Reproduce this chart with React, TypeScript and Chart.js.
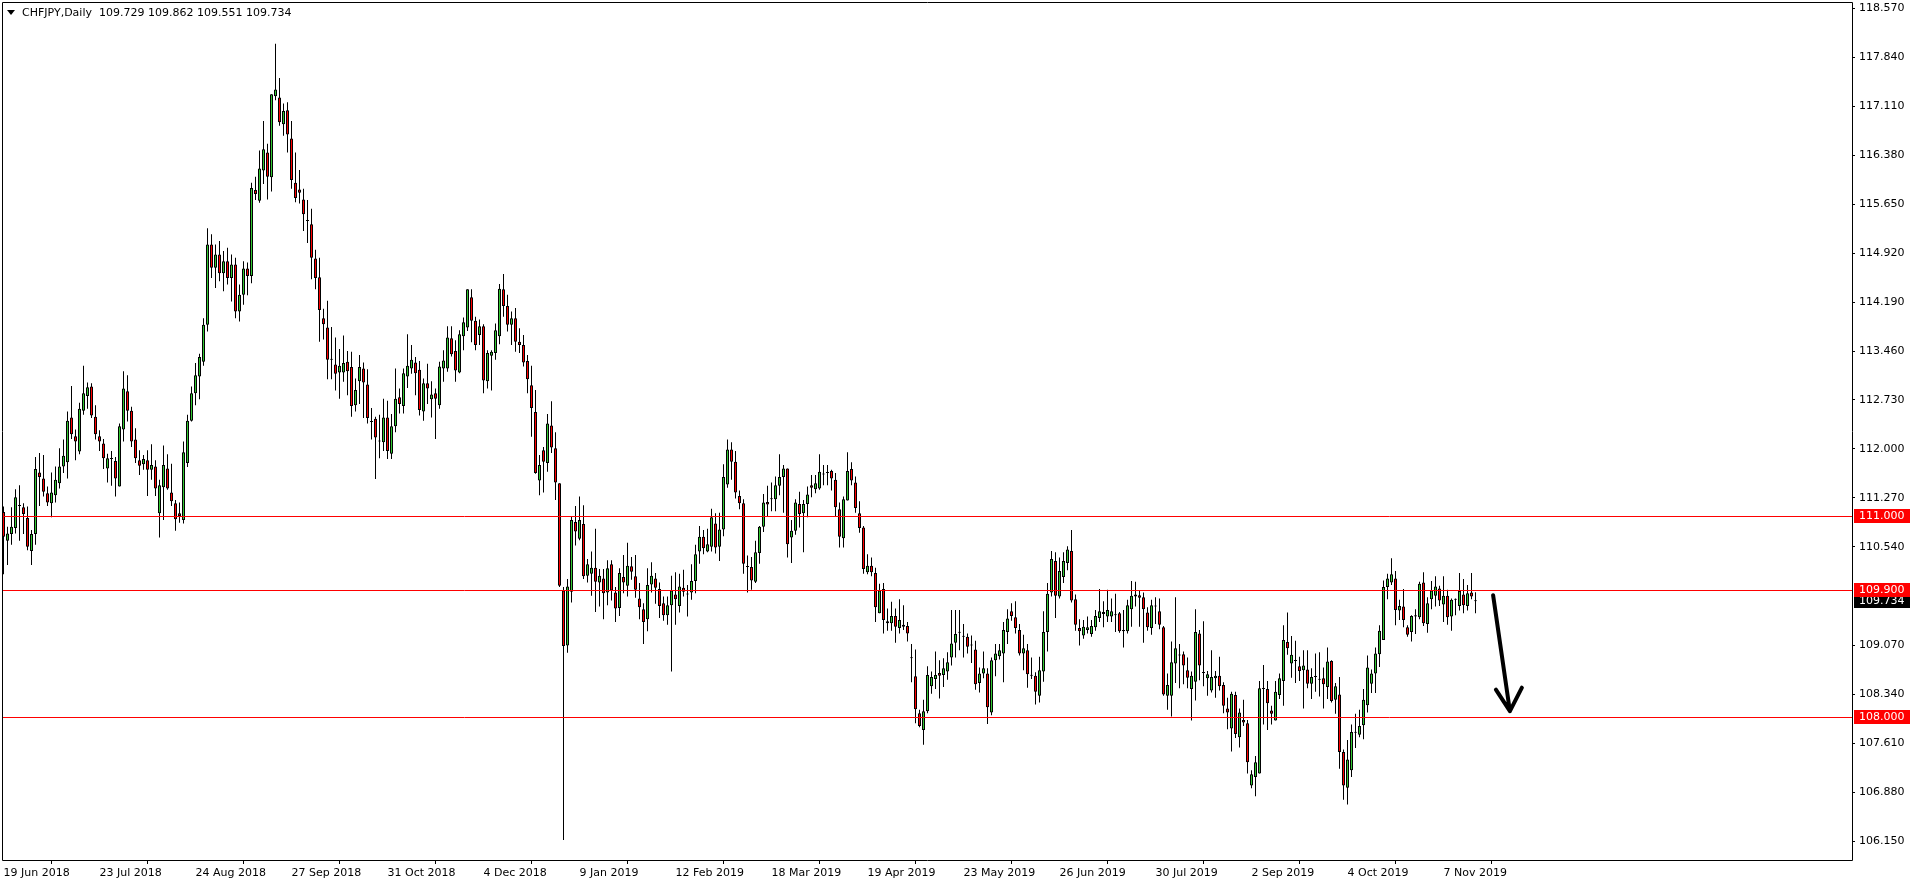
import React, { useEffect, useRef } from 'react';
import { Chart, registerables } from 'chart.js';

Chart.register(...registerables);

// ---------------- data ----------------
const symbolTitle = 'CHFJPY,Daily';

// Daily candles [open, high, low, close], one row per trading day starting 19 Jun 2018
const candlesPart1: number[][] = [
  [111.06, 111.14, 110.13, 110.69], [110.63, 110.84, 110.27, 110.74], [110.73, 111.13, 110.57, 110.84],
  [110.82, 111.40, 110.74, 111.28], [111.15, 111.46, 110.63, 111.15], [111.13, 111.19, 110.73, 111.03],
  [110.97, 111.14, 110.49, 110.54], [110.48, 110.79, 110.27, 110.73], [110.73, 111.88, 110.57, 111.70],
  [111.65, 111.94, 111.15, 111.58], [111.56, 111.91, 111.29, 111.36], [111.34, 111.44, 111.15, 111.20],
  [111.19, 111.65, 110.98, 111.35], [111.31, 111.74, 111.20, 111.54], [111.49, 112.01, 111.41, 111.74],
  [111.74, 112.14, 111.64, 111.90], [111.80, 112.56, 111.56, 112.42], [112.47, 112.94, 112.15, 112.22],
  [112.19, 112.29, 111.83, 112.11], [111.96, 112.69, 111.92, 112.60], [112.57, 113.24, 112.51, 112.83],
  [112.79, 112.99, 112.60, 112.92], [112.93, 112.98, 112.46, 112.50], [112.48, 112.65, 112.14, 112.22],
  [112.19, 112.28, 111.97, 112.11], [112.08, 112.15, 111.70, 111.86], [111.71, 111.93, 111.50, 111.86],
  [111.85, 111.97, 111.45, 111.85], [111.82, 111.88, 111.29, 111.56], [111.44, 112.38, 111.44, 112.34],
  [112.29, 113.16, 112.11, 112.90], [112.86, 113.10, 112.41, 112.57], [112.57, 112.63, 112.03, 112.11],
  [112.14, 112.31, 111.79, 111.86], [111.83, 111.98, 111.61, 111.75], [111.77, 111.91, 111.69, 111.85],
  [111.83, 111.98, 111.30, 111.69], [111.69, 112.07, 111.54, 111.76], [111.74, 111.83, 111.30, 111.41],
  [111.04, 111.54, 110.68, 111.46], [111.43, 112.05, 110.94, 111.76], [111.71, 111.92, 111.39, 111.41],
  [111.35, 111.78, 111.15, 111.22], [111.19, 111.24, 110.78, 110.95], [111.04, 111.20, 110.90, 111.00],
  [110.94, 112.11, 110.89, 111.95], [111.79, 112.51, 111.73, 112.42], [112.42, 112.93, 112.41, 112.83],
  [112.83, 113.28, 112.65, 113.10], [113.08, 113.42, 112.74, 113.37],
];

const candlesPart2: number[][] = [
  [113.30, 113.95, 113.24, 113.85], [113.85, 115.29, 113.75, 115.05], [115.05, 115.20, 114.55, 114.70],
  [114.70, 115.05, 114.40, 114.90], [114.90, 115.10, 114.50, 114.62], [114.62, 114.95, 114.35, 114.80],
  [114.80, 115.00, 114.45, 114.55], [114.55, 114.90, 114.20, 114.75], [114.75, 114.85, 113.95, 114.05],
  [114.05, 114.45, 113.90, 114.30], [114.30, 114.80, 114.15, 114.69], [114.69, 114.78, 114.29, 114.58],
  [114.58, 115.97, 114.47, 115.89], [115.86, 116.06, 115.71, 115.80], [115.70, 116.45, 115.67, 116.18],
  [116.15, 116.89, 115.95, 116.47], [116.42, 116.55, 115.72, 116.06], [116.05, 117.29, 115.84, 117.29],
  [117.26, 118.04, 117.20, 117.36], [117.24, 117.53, 116.82, 116.87], [116.84, 117.15, 116.67, 117.04],
  [117.05, 117.17, 116.42, 116.69], [116.63, 116.89, 115.88, 116.01], [115.97, 116.42, 115.68, 115.74],
  [115.87, 116.16, 115.66, 115.82], [115.72, 115.88, 115.25, 115.50], [115.40, 115.71, 115.07, 115.40],
  [115.35, 115.58, 114.53, 114.85], [114.84, 114.97, 114.38, 114.55], [114.56, 114.85, 113.60, 114.07],
  [113.95, 114.09, 113.63, 113.86], [113.81, 114.21, 113.04, 113.33], [113.33, 113.82, 113.04, 113.33],
  [113.26, 113.66, 112.87, 113.12], [113.14, 113.49, 112.75, 113.24], [113.14, 113.69, 113.00, 113.28],
  [113.30, 113.46, 112.80, 113.16], [113.22, 113.45, 112.48, 112.64], [112.65, 113.05, 112.56, 112.88],
  [113.01, 113.40, 112.67, 113.22], [113.20, 113.29, 112.46, 112.99], [112.96, 113.19, 112.38, 112.46],
  [112.40, 112.61, 112.14, 112.40], [112.45, 112.48, 111.55, 112.17], [112.11, 112.51, 111.86, 112.11],
  [112.10, 112.75, 111.97, 112.47], [112.47, 112.72, 111.85, 111.97], [111.93, 112.52, 111.85, 112.34],
  [112.34, 113.20, 112.25, 112.75], [112.77, 112.90, 112.53, 112.67],
];

const candlesPart3: number[][] = [
  [112.64, 113.20, 112.53, 113.13], [113.08, 113.71, 112.91, 113.24], [113.20, 113.55, 113.12, 113.33],
  [113.29, 113.37, 112.80, 113.13], [113.18, 113.31, 112.50, 112.58], [112.56, 113.05, 112.42, 112.98],
  [112.98, 113.27, 112.67, 112.90], [112.74, 113.01, 112.47, 112.81], [112.83, 112.90, 112.15, 112.75],
  [112.65, 113.30, 112.60, 113.23], [113.20, 113.47, 113.00, 113.32], [113.20, 113.83, 113.15, 113.66],
  [113.65, 113.83, 113.38, 113.41], [113.46, 113.62, 113.00, 113.17], [113.14, 113.77, 113.13, 113.71],
  [113.68, 113.96, 113.47, 113.89], [113.81, 114.38, 113.76, 114.38], [114.26, 114.38, 113.59, 113.91],
  [113.91, 113.97, 113.47, 113.55], [113.70, 113.93, 113.55, 113.83], [113.83, 113.86, 112.83, 113.02],
  [113.01, 113.47, 112.90, 113.43], [113.39, 113.47, 112.87, 113.45], [113.43, 113.87, 113.33, 113.77],
  [113.68, 114.46, 113.56, 114.39], [114.38, 114.61, 113.97, 114.13], [114.13, 114.30, 113.75, 113.85],
  [113.85, 114.05, 113.55, 113.95], [113.95, 114.10, 113.45, 113.60], [113.60, 113.80, 113.43, 113.55],
  [113.55, 113.70, 113.23, 113.29], [113.31, 113.40, 112.83, 113.04], [112.95, 113.24, 112.18, 112.61],
  [112.55, 112.88, 111.63, 111.64], [111.53, 111.91, 111.31, 111.76], [111.98, 112.03, 111.35, 111.81],
  [111.79, 112.52, 111.66, 112.38], [112.35, 112.71, 111.94, 112.02], [112.01, 112.25, 111.24, 111.50],
  [111.49, 111.49, 109.94, 109.96],
];

const candlesPart4: number[][] = [
  [109.89, 109.94, 106.17, 109.06], [109.07, 110.06, 108.96, 109.95], [109.87, 110.99, 109.71, 110.94],
  [110.91, 111.15, 110.56, 110.77], [110.66, 111.29, 110.64, 110.94], [110.88, 111.16, 110.06, 110.10],
  [110.11, 110.36, 110.01, 110.28], [110.14, 110.47, 109.81, 110.23], [110.23, 110.81, 109.57, 110.02],
  [110.01, 110.21, 109.65, 110.11], [110.07, 110.21, 109.46, 109.85], [109.86, 110.34, 109.67, 110.22],
  [110.28, 110.34, 109.74, 109.89], [109.86, 109.94, 109.42, 109.62], [109.63, 110.22, 109.51, 110.15],
  [110.09, 110.42, 109.85, 110.01], [109.96, 110.60, 109.80, 110.26], [110.25, 110.39, 110.05, 110.17],
  [110.10, 110.42, 109.78, 109.90], [109.77, 110.00, 109.46, 109.64], [109.61, 109.70, 109.09, 109.42],
  [109.46, 110.22, 109.28, 109.97], [109.98, 110.31, 109.86, 110.11], [110.07, 110.15, 109.69, 109.93],
  [109.91, 110.01, 109.48, 109.66], [109.70, 109.80, 109.44, 109.52], [109.52, 109.80, 109.38, 109.67],
  [109.67, 110.11, 108.68, 109.89], [109.83, 110.16, 109.38, 109.76], [109.66, 110.14, 109.56, 109.95],
  [109.93, 110.20, 109.80, 109.87], [109.83, 109.97, 109.50, 109.83], [109.86, 110.28, 109.75, 110.03],
  [110.03, 110.57, 109.85, 110.43], [110.47, 110.85, 110.29, 110.69], [110.69, 110.79, 110.43, 110.52],
  [110.47, 110.81, 110.46, 110.58], [110.54, 111.11, 110.47, 110.98], [110.89, 111.04, 110.44, 110.53],
  [110.54, 111.05, 110.33, 110.80], [110.80, 111.77, 110.70, 111.58], [111.47, 112.14, 111.42, 111.99],
  [111.99, 112.10, 111.54, 111.81], [111.81, 111.97, 111.26, 111.35], [111.30, 111.38, 111.10, 111.19],
  [111.19, 111.25, 110.14, 110.29], [110.24, 110.41, 109.86, 110.24], [110.24, 110.39, 109.90, 110.04],
  [110.02, 110.63, 110.00, 110.46], [110.45, 110.85, 110.29, 110.84],
];

const candlesPart5: number[][] = [
  [110.84, 111.33, 110.76, 111.20], [111.21, 111.45, 110.99, 111.17], [111.25, 111.50, 111.07, 111.25],
  [111.25, 111.59, 111.07, 111.46], [111.45, 111.92, 111.31, 111.58], [111.58, 111.76, 111.05, 111.71],
  [111.71, 111.71, 110.38, 110.58], [110.68, 110.94, 110.30, 110.78], [110.78, 111.25, 110.72, 111.20],
  [111.18, 111.36, 110.83, 111.03], [111.04, 111.24, 110.46, 111.18], [111.18, 111.44, 110.98, 111.32],
  [111.46, 111.61, 111.28, 111.42], [111.40, 111.61, 111.34, 111.49], [111.41, 111.92, 111.39, 111.66],
  [111.62, 111.76, 111.46, 111.62], [111.64, 111.76, 111.46, 111.64], [111.67, 111.69, 111.38, 111.56],
  [111.54, 111.64, 110.99, 111.13], [111.10, 111.20, 110.53, 110.69], [110.67, 111.29, 110.53, 111.25],
  [111.23, 111.95, 111.23, 111.67], [111.70, 111.80, 111.46, 111.53], [111.50, 111.59, 111.05, 111.12],
  [111.04, 111.22, 110.75, 110.82], [110.83, 110.85, 110.14, 110.21], [110.16, 110.43, 110.13, 110.26],
  [110.26, 110.38, 110.10, 110.16], [110.15, 110.23, 109.42, 109.64], [109.55, 109.99, 109.55, 109.89],
  [109.91, 110.00, 109.25, 109.45], [109.40, 109.62, 109.29, 109.43], [109.40, 109.72, 109.29, 109.51],
  [109.51, 109.62, 109.11, 109.35], [109.33, 109.76, 109.25, 109.45], [109.35, 109.67, 109.30, 109.38],
  [109.36, 109.42, 109.13, 109.25], [108.88, 109.09, 108.52, 108.88], [108.61, 109.01, 107.91, 108.12],
  [108.06, 108.11, 107.85, 107.87], [107.81, 108.26, 107.59, 108.09], [108.09, 108.76, 108.06, 108.63],
  [108.46, 108.68, 108.35, 108.60], [108.57, 108.98, 108.42, 108.63], [108.66, 108.85, 108.28, 108.62],
  [108.63, 108.88, 108.45, 108.73], [108.68, 108.97, 108.56, 108.82], [108.89, 109.60, 108.77, 109.10],
  [109.11, 109.60, 108.89, 109.24], [109.26, 109.60, 109.00, 109.26],
];

const candlesPart6: number[][] = [
  [109.20, 109.39, 108.89, 109.20], [109.20, 109.25, 108.95, 109.05], [109.07, 109.22, 108.81, 109.07],
  [109.01, 109.14, 108.41, 108.49], [108.51, 108.74, 108.37, 108.65], [108.65, 108.98, 108.58, 108.73],
  [108.65, 108.73, 107.90, 108.15], [108.07, 108.89, 108.03, 108.85], [108.85, 109.09, 108.61, 108.95],
  [108.91, 109.09, 108.86, 109.00], [108.95, 109.42, 108.52, 109.30], [109.27, 109.61, 109.09, 109.47],
  [109.58, 109.70, 109.44, 109.51], [109.49, 109.73, 109.25, 109.33], [109.30, 109.39, 108.92, 108.95],
  [108.95, 109.23, 108.70, 109.03], [109.00, 109.09, 108.44, 108.64], [108.62, 108.89, 108.57, 108.62],
  [108.62, 108.67, 108.19, 108.38], [108.32, 108.90, 108.22, 108.70], [108.68, 109.58, 108.53, 109.27],
  [109.27, 110.00, 108.98, 109.84], [109.86, 110.48, 109.80, 110.36], [110.33, 110.46, 109.48, 109.81],
  [109.80, 110.38, 109.77, 110.18], [110.09, 110.46, 110.00, 110.33], [110.30, 110.55, 110.19, 110.50],
  [110.48, 110.79, 109.71, 109.74], [109.76, 109.83, 109.29, 109.38], [109.33, 109.46, 109.07, 109.28],
  [109.22, 109.45, 109.17, 109.35], [109.30, 109.50, 109.25, 109.34], [109.24, 109.45, 109.20, 109.36],
  [109.34, 109.60, 109.29, 109.51], [109.48, 109.91, 109.42, 109.58], [109.57, 109.73, 109.34, 109.54],
  [109.50, 109.90, 109.42, 109.60], [109.50, 109.77, 109.42, 109.58], [109.52, 109.84, 109.27, 109.52],
  [109.55, 109.57, 109.26, 109.28], [109.28, 109.60, 109.04, 109.30], [109.28, 109.75, 109.25, 109.67],
  [109.61, 110.03, 109.35, 109.81], [109.80, 110.02, 109.65, 109.83], [109.82, 109.89, 109.35, 109.78],
  [109.79, 109.86, 109.11, 109.61], [109.56, 109.64, 109.29, 109.34], [109.33, 109.75, 109.23, 109.67],
  [109.65, 109.79, 109.39, 109.65], [109.58, 109.77, 109.31, 109.38],
];

const candlesPart7: number[][] = [
  [109.34, 109.36, 108.32, 108.34], [108.32, 108.65, 108.11, 108.48], [108.32, 109.13, 108.01, 108.82],
  [108.80, 109.79, 108.51, 109.03], [108.92, 109.09, 108.43, 108.92], [108.94, 108.98, 108.49, 108.77],
  [108.70, 108.89, 108.43, 108.59], [108.42, 108.68, 107.95, 108.62], [108.53, 109.61, 108.25, 109.27],
  [109.25, 109.30, 108.55, 108.77], [108.66, 109.43, 108.46, 108.66], [108.58, 108.69, 108.32, 108.64],
  [108.40, 109.00, 108.37, 108.60], [108.58, 108.69, 108.29, 108.62], [108.62, 108.90, 108.40, 108.46],
  [108.48, 108.52, 108.06, 108.17], [108.13, 108.29, 107.82, 108.07], [107.83, 108.38, 107.49, 108.35],
  [108.33, 108.38, 107.69, 107.75], [107.70, 108.13, 107.55, 108.07], [107.96, 108.26, 107.87, 107.92],
  [107.91, 107.96, 107.16, 107.33], [106.98, 107.21, 106.94, 107.15], [107.11, 107.42, 106.82, 107.33],
  [107.16, 108.54, 107.16, 108.43], [108.42, 108.78, 107.89, 108.42], [108.42, 108.54, 107.81, 108.21],
  [108.10, 108.17, 107.89, 108.05], [107.95, 108.54, 107.95, 108.38], [108.33, 108.65, 108.27, 108.58],
  [108.54, 109.37, 108.17, 109.15], [109.12, 109.56, 108.93, 109.03], [108.80, 109.21, 108.59, 108.93],
  [108.84, 109.14, 108.51, 108.84], [108.76, 108.90, 108.54, 108.69], [108.70, 109.00, 108.13, 108.77],
  [108.71, 109.00, 108.43, 108.50], [108.50, 108.73, 108.27, 108.60], [108.60, 108.95, 108.38, 108.60],
  [108.56, 108.97, 108.31, 108.56], [108.58, 108.74, 108.13, 108.49], [108.45, 109.04, 108.27, 108.83],
  [108.84, 108.85, 108.22, 108.24], [108.26, 108.51, 108.05, 108.46], [108.34, 108.60, 107.23, 107.48],
  [107.48, 107.52, 106.77, 106.98], [106.95, 107.66, 106.70, 107.37], [107.21, 107.89, 107.11, 107.78],
  [107.77, 108.05, 107.54, 107.77], [107.74, 108.11, 107.70, 107.87],
];

const candlesPart8: number[][] = [
  [107.88, 108.42, 107.67, 108.26], [108.18, 108.92, 108.07, 108.74], [108.50, 108.71, 108.36, 108.65],
  [108.65, 109.04, 108.36, 108.95], [108.94, 109.37, 108.75, 109.29], [109.15, 110.04, 109.15, 109.94],
  [109.94, 110.14, 109.76, 110.07], [110.01, 110.37, 109.97, 110.13], [110.07, 110.18, 109.37, 109.60],
  [109.59, 109.75, 109.45, 109.66], [109.65, 109.91, 109.34, 109.45], [109.34, 109.37, 109.20, 109.23],
  [109.27, 109.52, 109.13, 109.51], [109.50, 109.61, 109.24, 109.52], [109.49, 110.02, 109.46, 109.99],
  [110.01, 110.16, 109.36, 109.40], [109.39, 109.79, 109.26, 109.70], [109.76, 110.03, 109.61, 109.89],
  [109.81, 110.10, 109.65, 109.95], [109.92, 109.96, 109.66, 109.74], [109.68, 110.10, 109.42, 109.81],
  [109.81, 109.90, 109.38, 109.49], [109.50, 109.77, 109.29, 109.75], [109.75, 109.77, 109.52, 109.75],
  [109.66, 110.15, 109.59, 109.88], [109.83, 110.06, 109.55, 109.67], [109.66, 109.97, 109.59, 109.85],
  [109.86, 110.15, 109.76, 109.80], [109.729, 109.862, 109.551, 109.734],
];

const xTickLabels = [
  '19 Jun 2018', '23 Jul 2018', '24 Aug 2018', '27 Sep 2018', '31 Oct 2018', '4 Dec 2018',
  '9 Jan 2019', '12 Feb 2019', '18 Mar 2019', '19 Apr 2019', '23 May 2019', '26 Jun 2019',
  '30 Jul 2019', '2 Sep 2019', '4 Oct 2019', '7 Nov 2019',
];
const barsPerXTick = 24;

const yTickValues = [
  118.57, 117.84, 117.11, 116.38, 115.65, 114.92, 114.19, 113.46, 112.73, 112.0,
  111.27, 110.54, 109.07, 108.34, 107.61, 106.88, 106.15,
];
const yMin = 105.871;
const yMax = 118.664;
const xMin = -0.375;
const xMax = 462.125;

const levelLines = [111.0, 109.9, 108.0];

// hand-drawn arrow (bar index, price)
const arrowShaft = [[372.4, 109.82], [376.6, 108.09]];
const arrowHeadLeft = [373.1, 108.41];
const arrowHeadRight = [379.6, 108.44];

// --------------- chart ----------------
const FONT = "'DejaVu Sans'";
const BULL = '#32C832';
const BEAR = '#FF0000';

function App() {
  const canvasRef = useRef<HTMLCanvasElement | null>(null);

  useEffect(() => {
    const candles = [
      ...candlesPart1, ...candlesPart2, ...candlesPart3, ...candlesPart4,
      ...candlesPart5, ...candlesPart6, ...candlesPart7, ...candlesPart8,
    ];
    const opens = candles.map((r) => r[0]);
    const highs = candles.map((r) => r[1]);
    const lows = candles.map((r) => r[2]);
    const closes = candles.map((r) => r[3]);

    const bodyData = candles.map((_, i) => ({
      x: i,
      y: [Math.min(opens[i], closes[i]), Math.max(opens[i], closes[i])],
    }));
    const wickData = candles.map((_, i) => ({
      x: i,
      y: [Math.min(lows[i], opens[i], closes[i]), Math.max(highs[i], opens[i], closes[i])],
    }));
    const bodyColors = candles.map((_, i) => (closes[i] >= opens[i] ? BULL : BEAR));

    const last = candles[candles.length - 1];

    const overlay = {
      id: 'mt4Overlay',
      afterDatasetsDraw(chart: any) {
        const { ctx, chartArea: a, scales } = chart;
        const x = scales.x;
        const y = scales.y;
        ctx.save();
        ctx.beginPath();
        ctx.rect(a.left, a.top, a.right - a.left, a.bottom - a.top);
        ctx.clip();
        ctx.strokeStyle = '#FF0000';
        ctx.lineWidth = 1;
        levelLines.forEach((v) => {
          const py = Math.round(y.getPixelForValue(v)) + 0.5;
          ctx.beginPath();
          ctx.moveTo(a.left, py);
          ctx.lineTo(a.right, py);
          ctx.stroke();
        });
        ctx.strokeStyle = '#000';
        ctx.lineWidth = 4;
        ctx.lineCap = 'round';
        ctx.lineJoin = 'round';
        const px = (p: number[]) => [x.getPixelForValue(p[0]), y.getPixelForValue(p[1])];
        const s0 = px(arrowShaft[0]);
        const s1 = px(arrowShaft[1]);
        const hl = px(arrowHeadLeft);
        const hr = px(arrowHeadRight);
        ctx.beginPath();
        ctx.moveTo(s0[0], s0[1]);
        ctx.lineTo(s1[0], s1[1]);
        ctx.moveTo(hl[0], hl[1]);
        ctx.lineTo(s1[0], s1[1]);
        ctx.lineTo(hr[0], hr[1]);
        ctx.stroke();
        ctx.restore();
      },
      afterDraw(chart: any) {
        const { ctx, chartArea: a, scales } = chart;
        const y = scales.y;
        ctx.save();
        ctx.strokeStyle = '#000';
        ctx.lineWidth = 1;
        ctx.beginPath();
        ctx.moveTo(a.left + 0.5, a.top + 0.5);
        ctx.lineTo(a.right + 0.5, a.top + 0.5);
        ctx.lineTo(a.right + 0.5, a.bottom + 0.5);
        ctx.lineTo(a.left + 0.5, a.bottom + 0.5);
        ctx.closePath();
        ctx.stroke();

        ctx.fillStyle = '#000';
        ctx.beginPath();
        ctx.moveTo(a.left + 5, a.top + 8);
        ctx.lineTo(a.left + 13, a.top + 8);
        ctx.lineTo(a.left + 9, a.top + 13);
        ctx.closePath();
        ctx.fill();
        ctx.font = `11px ${FONT}`;
        ctx.textBaseline = 'middle';
        ctx.textAlign = 'left';
        const fmt = (v: number) => v.toFixed(3);
        ctx.fillText(
          `${symbolTitle}  ${fmt(last[0])} ${fmt(last[1])} ${fmt(last[2])} ${fmt(last[3])}`,
          a.left + 20,
          a.top + 11,
        );

        const box = (v: number, bg: string) => {
          const py = Math.round(y.getPixelForValue(v));
          ctx.fillStyle = bg;
          ctx.fillRect(a.right + 2, py - 7, 56, 14);
          ctx.fillStyle = '#FFF';
          ctx.fillText(v.toFixed(3), a.right + 7, py + 0.5);
        };
        box(last[3], '#000');
        levelLines.forEach((v) => box(v, '#FF0000'));
        ctx.restore();
      },
    };

    const chart = new Chart(canvasRef.current as HTMLCanvasElement, {
      type: 'bar',
      data: {
        datasets: [
          {
            label: 'body',
            data: bodyData as any,
            backgroundColor: bodyColors,
            borderColor: '#000',
            borderWidth: 1,
            borderSkipped: false,
            barThickness: 3,
            minBarLength: 1,
            grouped: false,
            inflateAmount: 0,
            order: 0,
          } as any,
          {
            label: 'wick',
            data: wickData as any,
            backgroundColor: '#000',
            borderWidth: 0,
            barThickness: 1,
            minBarLength: 1,
            grouped: false,
            inflateAmount: 0,
            order: 1,
          } as any,
        ],
      },
      options: {
        responsive: false,
        devicePixelRatio: 1,
        animation: false,
        layout: { padding: { left: 2, top: 2, right: 0, bottom: 0 } },
        plugins: { legend: { display: false }, tooltip: { enabled: false } },
        scales: {
          x: {
            type: 'linear',
            min: xMin,
            max: xMax,
            offset: false,
            grid: { drawOnChartArea: false, drawTicks: true, tickLength: 4, color: '#000' },
            border: { display: false },
            ticks: {
              autoSkip: false,
              maxRotation: 0,
              minRotation: 0,
              align: 'start',
              padding: 3,
              color: '#000',
              font: { family: FONT, size: 11 },
              callback: (v: any) => xTickLabels[Math.round(Number(v) / barsPerXTick)] ?? '',
            },
            afterBuildTicks: (scale: any) => {
              scale.ticks = xTickLabels.map((_, k) => ({ value: k * barsPerXTick }));
            },
            afterFit: (scale: any) => {
              scale.height = 24;
              scale.paddingLeft = 0;
              scale.paddingRight = 0;
            },
          } as any,
          y: {
            type: 'linear',
            position: 'right',
            min: yMin,
            max: yMax,
            grid: { drawOnChartArea: false, drawTicks: true, tickLength: 3, color: '#000' },
            border: { display: false },
            ticks: {
              padding: 4,
              color: '#000',
              font: { family: FONT, size: 11 },
              callback: (v: any) => Number(v).toFixed(3),
            },
            afterBuildTicks: (scale: any) => {
              scale.ticks = yTickValues.map((v) => ({ value: v }));
            },
            afterFit: (scale: any) => {
              scale.width = 64;
              scale.paddingTop = 0;
              scale.paddingBottom = 0;
            },
          } as any,
        },
      },
      plugins: [overlay],
    });

    return () => chart.destroy();
  }, []);

  return (
    <div style={{ position: 'fixed', left: 0, top: 0, width: 1916, height: 884, background: '#fff' }}>
      <canvas ref={canvasRef} width={1916} height={884} style={{ display: 'block' }} />
    </div>
  );
}

export default App;
